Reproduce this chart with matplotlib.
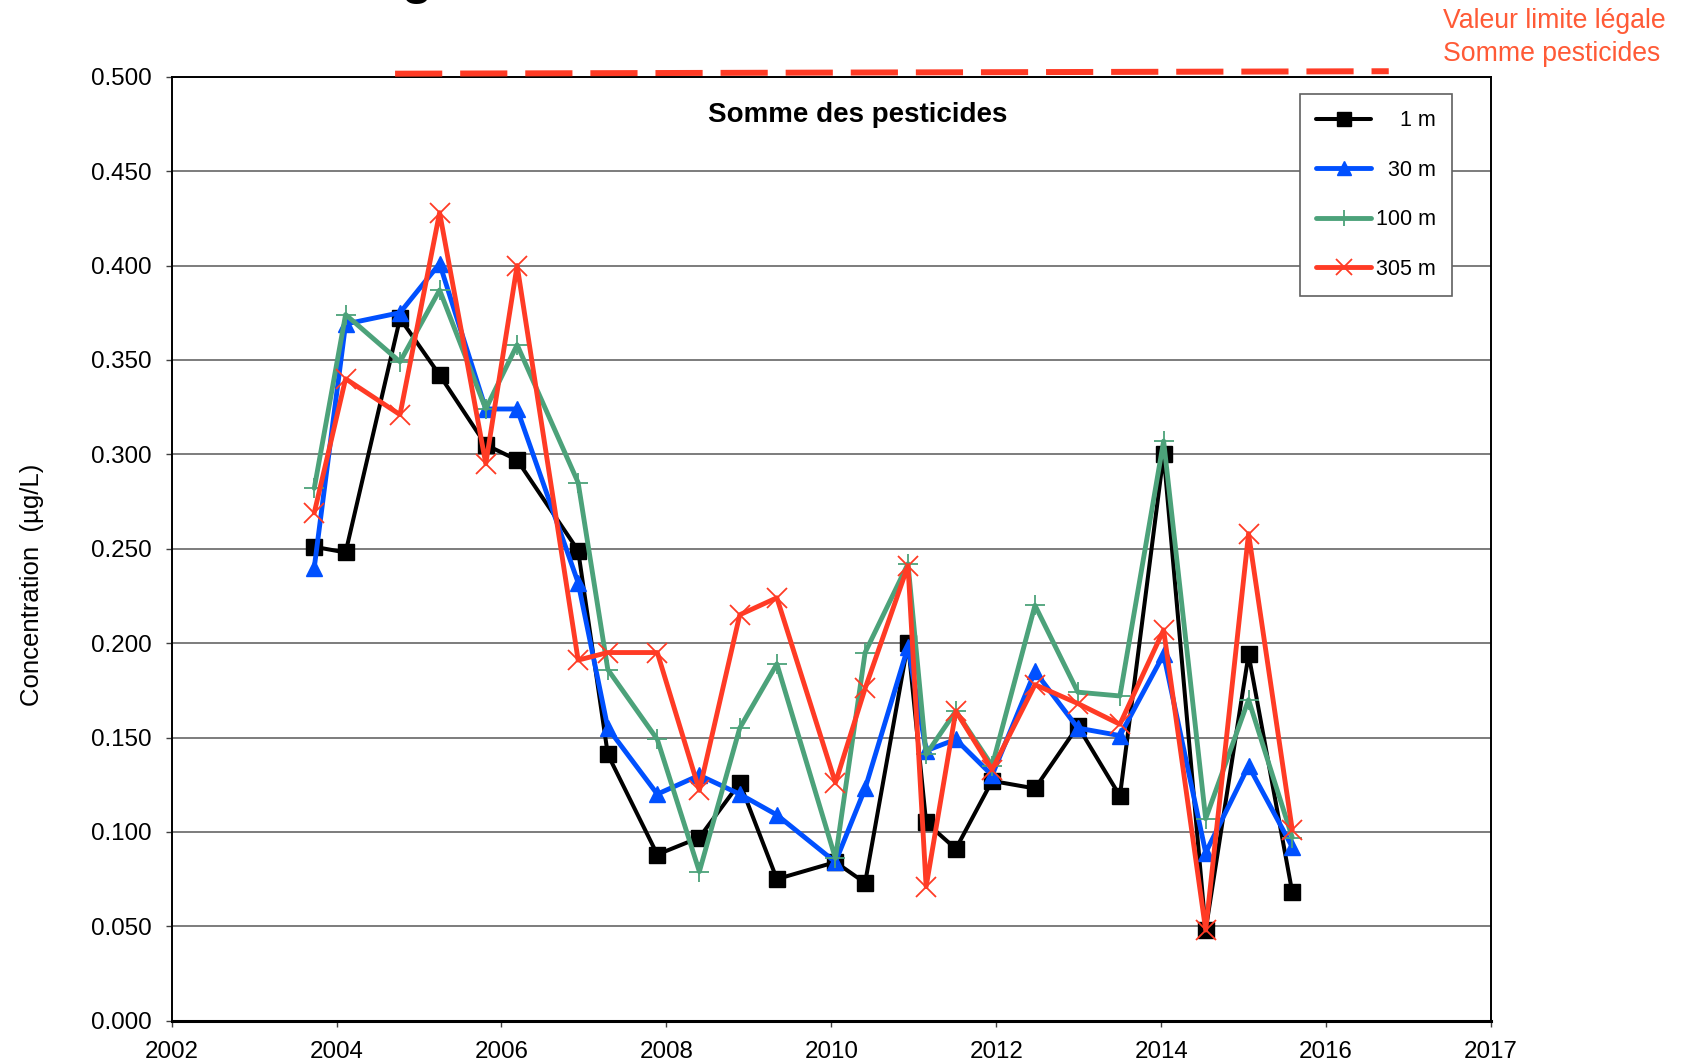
import matplotlib
matplotlib.use('Agg')
import matplotlib.pyplot as plt

plt.rcParams['font.family'] = ['Liberation Sans', 'DejaVu Sans']

# ---- data ----
dates = [2003.73, 2004.11, 2004.77, 2005.25, 2005.81, 2006.19, 2006.93, 2007.29,
         2007.89, 2008.40, 2008.89, 2009.34, 2010.05, 2010.41, 2010.93, 2011.15,
         2011.51, 2011.95, 2012.47, 2012.99, 2013.50, 2014.03, 2014.54, 2015.06,
         2015.59]
conc_1m = [0.251, 0.248, 0.372, 0.342, 0.305, 0.297, 0.249, 0.141, 0.088, 0.097,
           0.126, 0.075, 0.084, 0.073, 0.200, 0.105, 0.091, 0.127, 0.123, 0.156,
           0.119, 0.300, 0.048, 0.194, 0.068]
conc_30m = [0.240, 0.369, 0.375, 0.401, 0.324, 0.324, 0.232, 0.155, 0.120, 0.130,
            0.120, 0.109, 0.084, 0.123, 0.198, 0.143, 0.149, 0.130, 0.185, 0.155,
            0.151, 0.194, 0.089, 0.135, 0.092]
conc_100m = [0.282, 0.374, 0.349, 0.387, 0.324, 0.358, 0.285, 0.186, 0.149, 0.079,
             0.155, 0.189, 0.086, 0.195, 0.242, 0.141, 0.164, 0.135, 0.220, 0.174,
             0.172, 0.307, 0.107, 0.170, 0.097]
conc_305m = [0.269, 0.340, 0.321, 0.428, 0.295, 0.400, 0.191, 0.195, 0.195, 0.122,
             0.215, 0.224, 0.126, 0.176, 0.241, 0.071, 0.164, 0.133, 0.178, 0.168,
             0.157, 0.207, 0.048, 0.258, 0.101]
series_names = ['1 m', '30 m', '100 m', '305 m']

limit_x = [2004.71, 2016.76]
limit_y = [0.5016, 0.5029]

xticks = [2002, 2004, 2006, 2008, 2010, 2012, 2014, 2016, 2018]
xtick_labels = ['2002', '2004', '2006', '2008', '2010', '2012', '2014', '2016', '2017']
yticks = [0.0, 0.05, 0.10, 0.15, 0.20, 0.25, 0.30, 0.35, 0.40, 0.45, 0.50]

# ---- figure ----
W, H = 1682, 1063
fig = plt.figure(figsize=(W / 100, H / 100), dpi=100)
ax = fig.add_axes([171.6 / W, 1 - 1020.7 / H, (1491 - 171.6) / W, (1020.7 - 76.7) / H])

red = '#FF3B25'
styles = [
    dict(color='#000000', marker='s', ms=12, lw=2.9),
    dict(color='#0050FF', marker='^', ms=12, lw=3.5),
    dict(color='#4CA27A', marker='+', ms=14, lw=3.5, mew=1.3),
    dict(color=red, marker='x', ms=14, lw=3.5, mew=1.3),
]
for vals, name, st in zip([conc_1m, conc_30m, conc_100m, conc_305m], series_names, styles):
    ax.plot(dates, vals, label=name.rjust(5, '\u2007'), solid_joinstyle='round',
            solid_capstyle='round', clip_on=False, zorder=3, **st)

# legal limit line (drawn above the frame)
ax.plot(limit_x, limit_y, color=red, lw=4.3, linestyle=(0, (7.9, 3.0)),
        dash_capstyle='butt', clip_on=False, zorder=4)

ax.set_xlim(2002, 2018)
ax.set_ylim(0, 0.5)
ax.set_xticks(xticks)
ax.set_xticklabels(xtick_labels)
ax.set_yticks(yticks)
ax.set_yticklabels(['%.3f' % v for v in yticks])
ax.tick_params(axis='both', direction='out', length=4.5, width=1.0, pad=10,
               labelsize=17.4, color='#404040')
ax.yaxis.grid(True, color='#666666', lw=1.2)
ax.set_axisbelow(True)
for s in ['left', 'right', 'top']:
    ax.spines[s].set_linewidth(1.4)
ax.spines['bottom'].set_linewidth(2.2)

ax.set_ylabel('Concentration  (\u00b5g/L)', fontsize=18.5)
ax.yaxis.set_label_coords(-0.0967, 0.4616)

ax.text(0.520, 0.952, 'Somme des pesticides', transform=ax.transAxes, ha='center',
        va='baseline', fontsize=20, fontweight='bold')

leg = ax.legend(loc='upper right', bbox_to_anchor=(0.9705, 0.9817), borderaxespad=0,
                fontsize=15.5, labelspacing=1.33, handlelength=2.55, handletextpad=0.23,
                borderpad=0.75, fancybox=False, framealpha=1, edgecolor='#606060',
                markerscale=0.8)
leg.get_frame().set_linewidth(1.2)
leg.set_zorder(5)

# annotation top-right
ann = '#FF5A36'
fig.text(1442.7 / W, 1 - 28 / H, 'Valeur limite l\u00e9gale', color=ann, fontsize=19.2,
         ha='left', va='baseline')
fig.text(1442.7 / W, 1 - 61 / H, 'Somme pesticides', color=ann, fontsize=19.2,
         ha='left', va='baseline')

# cut-off main title fragment
fig.text(417 / W, 1 + 5.5 / H, 'g', fontsize=36, fontweight='bold', ha='center',
         va='baseline')

fig.savefig('out.png', dpi=100)
